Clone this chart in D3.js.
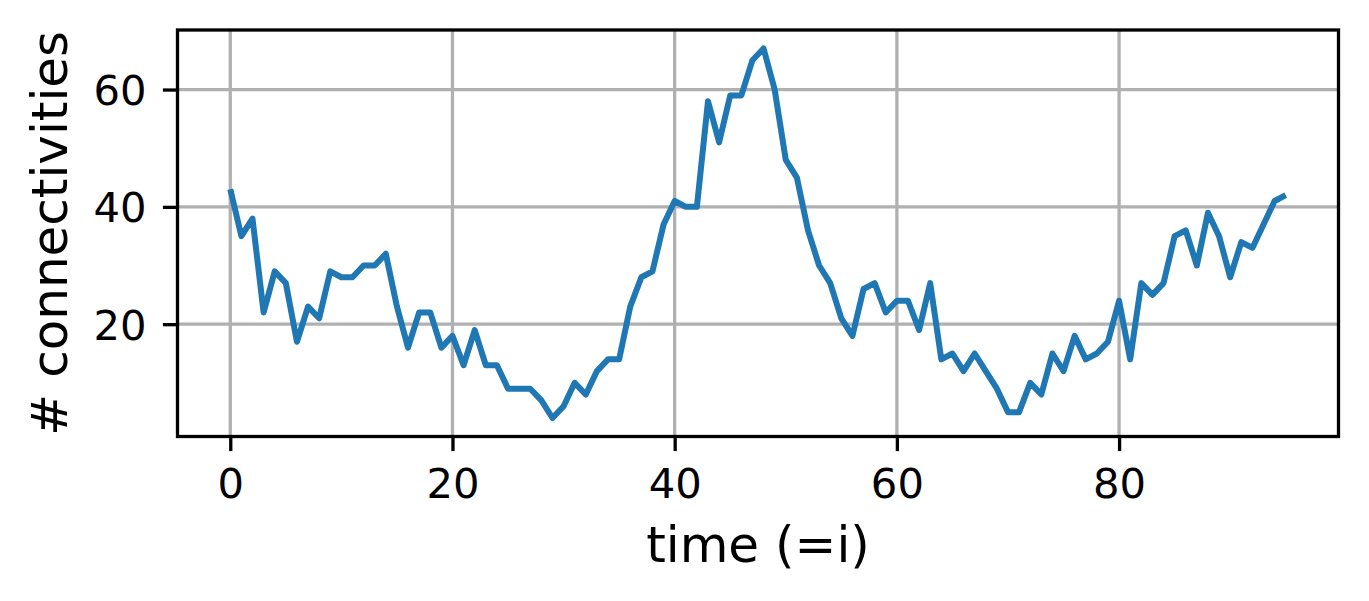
<!DOCTYPE html>
<html>
<head>
<meta charset="utf-8">
<script src="https://cdn.jsdelivr.net/npm/d3@7"></script>
<style>
  html, body { margin: 0; padding: 0; background: #fff; }
  svg { display: block; }
</style>
</head>
<body>
<svg id="chart" width="1369" height="601"></svg>
<script>
const connectivities = [
  43, 35, 38, 22, 29, 27, 17, 23, 21, 29,
  28, 28, 30, 30, 32, 23, 16, 22, 22, 16,
  18, 13, 19, 13, 13, 9, 9, 9, 7, 4,
  6, 10, 8, 12, 14, 14, 23, 28, 29, 37,
  41, 40, 40, 58, 51, 59, 59, 65, 67, 60,
  48, 45, 36, 30, 27, 21, 18, 26, 27, 22,
  24, 24, 19, 27, 14, 15, 12, 15, 12, 9,
  5, 5, 10, 8, 15, 12, 18, 14, 15, 17,
  24, 14, 27, 25, 27, 35, 36, 30, 39, 35,
  28, 34, 33, 37, 41, 42
];
const time = connectivities.map((_, i) => i);
const xTicks = [0, 20, 40, 60, 80];
const yTicks = [20, 40, 60];
const xLabel = "time (=i)";
const yLabel = "# connectivities";

const svg = d3.select("#chart");
const L = 177.5, R = 1338.5, T = 30, B = 436.5;
const font = "'DejaVu Sans', sans-serif";

const xMin = d3.min(time), xMax = d3.max(time);
const xPad = (xMax - xMin) * 0.05;
const yMin = d3.min(connectivities), yMax = d3.max(connectivities);
const yPad = (yMax - yMin) * 0.05;

const x = d3.scaleLinear().domain([xMin - xPad, xMax + xPad]).range([L, R]);
const y = d3.scaleLinear().domain([yMin - yPad, yMax + yPad]).range([B, T]);

// grid
const grid = svg.append("g");
grid.selectAll(".gx").data(xTicks).join("line")
  .attr("x1", d => x(d)).attr("x2", d => x(d)).attr("y1", T).attr("y2", B)
  .attr("stroke", "#b0b0b0").attr("stroke-width", 3.3);
grid.selectAll(".gy").data(yTicks).join("line")
  .attr("y1", d => y(d)).attr("y2", d => y(d)).attr("x1", L).attr("x2", R)
  .attr("stroke", "#b0b0b0").attr("stroke-width", 3.3);

// line
const line = d3.line().x((d, i) => x(time[i])).y(d => y(d));
svg.append("path").datum(connectivities)
  .attr("d", line).attr("fill", "none")
  .attr("stroke", "#1f77b4").attr("stroke-width", 6)
  .attr("stroke-linejoin", "round").attr("stroke-linecap", "butt");

// axes
const xAxis = d3.axisBottom(x).tickValues(xTicks).tickSize(14.6).tickPadding(15).tickFormat(d3.format("d"));
const yAxis = d3.axisLeft(y).tickValues(yTicks).tickSize(14.6).tickPadding(15).tickFormat(d3.format("d"));

const gx = svg.append("g").attr("transform", `translate(0,${B})`).call(xAxis);
const gy = svg.append("g").attr("transform", `translate(${L},0)`).call(yAxis);
[gx, gy].forEach(g => {
  g.select(".domain").remove();
  g.selectAll(".tick line").attr("stroke", "#000").attr("stroke-width", 3.3);
  g.selectAll(".tick text").attr("font-family", font).attr("font-size", 41.7).attr("fill", "#000");
});
gx.selectAll(".tick text").attr("dy", null).attr("y", 61);
gy.selectAll(".tick text").attr("dy", null).attr("y", 15).attr("x", -31);

// frame
svg.append("rect").attr("x", L).attr("y", T).attr("width", R - L).attr("height", B - T)
  .attr("fill", "none").attr("stroke", "#000").attr("stroke-width", 3.3);

// labels
svg.append("text").attr("x", (L + R) / 2).attr("y", 561.5)
  .attr("text-anchor", "middle").attr("font-family", font).attr("font-size", 50)
  .attr("fill", "#000").text(xLabel);
svg.append("text").attr("transform", `translate(67,${(T + B) / 2}) rotate(-90)`)
  .attr("text-anchor", "middle").attr("font-family", font).attr("font-size", 50)
  .attr("fill", "#000").text(yLabel);
</script>
</body>
</html>
